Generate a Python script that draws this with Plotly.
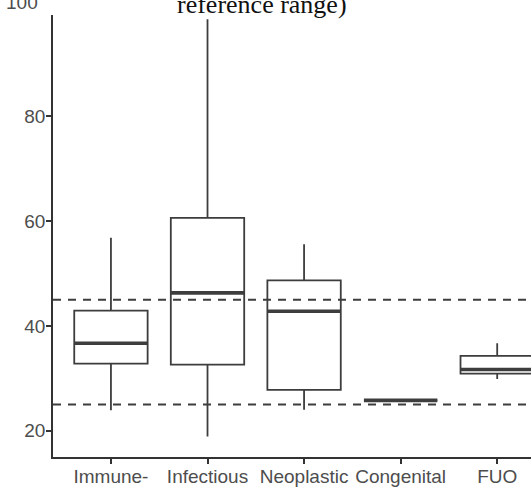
import plotly.graph_objects as go

# Group labels and five-number summaries for each box
categories = ["Immune-", "Infectious", "Neoplastic", "Congenital", "FUO"]
lower_whisker = [23.9, 18.9, 24.0, 25.8, 29.9]
q1_values = [32.8, 32.6, 27.8, 25.8, 30.9]
medians = [36.7, 46.3, 42.8, 25.8, 31.7]
q3_values = [42.9, 60.6, 48.7, 25.8, 34.3]
upper_whisker = [56.8, 98.5, 55.6, 25.8, 36.7]

# Reference range bounds drawn as dashed horizontal lines
reference_range = [25, 45]

y_ticks = [20, 40, 60, 80, 100]

positions = list(range(1, len(categories) + 1))
box_width = 0.76
line_col = "#3d3d3d"
text_col = "#4d4d4d"
label_size = 19

fig = go.Figure()

fig.add_trace(go.Box(
    x=positions,
    q1=q1_values,
    median=medians,
    q3=q3_values,
    lowerfence=lower_whisker,
    upperfence=upper_whisker,
    width=box_width,
    whiskerwidth=0,
    fillcolor="white",
    line=dict(color=line_col, width=1.8),
    boxpoints=False,
    showlegend=False,
    hoverinfo="skip",
))

# Heavier median bars on top of each box
med_x, med_y = [], []
for p, m in zip(positions, medians):
    med_x += [p - box_width / 2, p + box_width / 2, None]
    med_y += [m, m, None]
fig.add_trace(go.Scatter(
    x=med_x, y=med_y, mode="lines",
    line=dict(color=line_col, width=3.6),
    showlegend=False, hoverinfo="skip",
))

for bound in reference_range:
    fig.add_shape(
        type="line", xref="paper", yref="y",
        x0=0, x1=1, y0=bound, y1=bound,
        line=dict(color=line_col, width=2, dash="8px,7px"),
        layer="above",
    )

y_lo, y_hi = 15.0, 99.3
shown_ticks = [t for t in y_ticks if y_lo <= t <= y_hi]
clipped_ticks = [t for t in y_ticks if t > y_hi]

fig.update_layout(
    width=531, height=488,
    margin=dict(l=53, r=0, t=15, b=31, autoexpand=False),
    paper_bgcolor="white", plot_bgcolor="white",
    font=dict(family="Liberation Sans, Arial, sans-serif", size=label_size, color=text_col),
    xaxis=dict(
        range=[0.4, 5.35],
        tickmode="array", tickvals=positions, ticktext=categories,
        showline=True, linecolor="#333333", linewidth=1.6,
        ticks="outside", ticklen=5, tickwidth=1.6, tickcolor="#333333",
        showgrid=False, zeroline=False, automargin=False,
        ticklabelstandoff=-4,
        tickfont=dict(size=label_size, color=text_col),
    ),
    yaxis=dict(
        range=[y_lo, y_hi],
        tickmode="array", tickvals=shown_ticks,
        showline=True, linecolor="#333333", linewidth=1.6,
        ticks="outside", ticklen=5, tickwidth=1.6, tickcolor="#333333",
        showgrid=False, zeroline=False, automargin=False,
        ticklabelstandoff=-3,
        tickfont=dict(size=label_size, color=text_col),
    ),
)

# Top tick label that runs off the upper edge of the canvas
for t in clipped_ticks:
    fig.add_annotation(
        text=str(t), xref="paper", yref="paper", x=0, y=1,
        xanchor="right", yanchor="bottom", xshift=-13, yshift=0,
        showarrow=False, font=dict(size=label_size, color=text_col),
    )

fig.add_annotation(
    text="reference range)", xref="paper", yref="paper",
    x=(262 - 53) / 478, y=1, xanchor="center", yanchor="bottom", yshift=-6,
    showarrow=False,
    font=dict(family="Liberation Serif, Times New Roman, serif", size=26, color="#111111"),
)

fig.write_html("out.html")
